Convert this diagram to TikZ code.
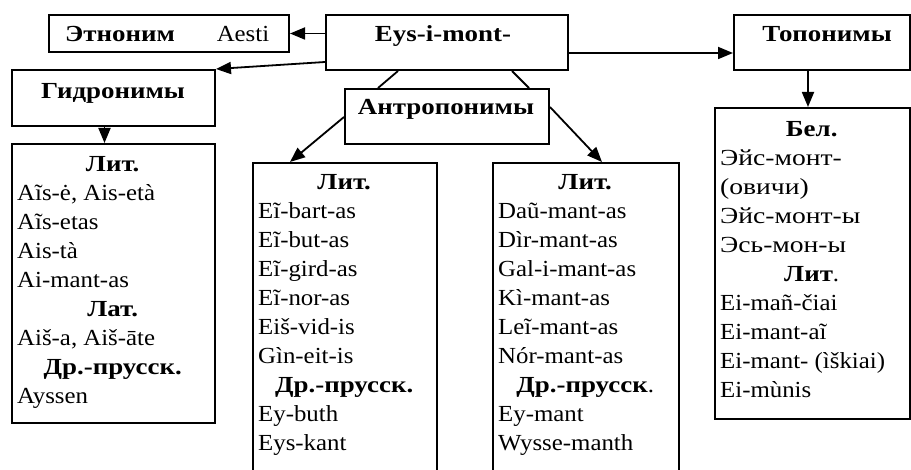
\documentclass[tikz,border=0pt]{standalone}
\usepackage{fontspec}
\setmainfont{Liberation Serif}[FakeStretch=1.08, BoldFeatures={FakeStretch=1.17}]
\newfontfamily\cyr{Liberation Serif}[FakeStretch=1.2, BoldFeatures={FakeStretch=1.17}]
\usetikzlibrary{arrows.meta,calc}
\newcommand\hd[1]{\multicolumn{1}{@{}c@{}}{#1}}
\begin{document}
\begin{tikzpicture}[x=1pt,y=-1pt,
  box/.style={draw, line width=2pt, inner sep=0pt, anchor=north west},
  arr/.style={line width=1.8pt, -{Triangle[length=15pt,width=12pt]}},
  con/.style={line width=1.8pt},
  lbl/.style={inner sep=0pt, anchor=base, font=\fontsize{23}{29}\selectfont},
  lst/.style={inner sep=0pt, anchor=base west, font=\fontsize{23}{29}\selectfont}]
\useasboundingbox (0,0) rectangle (911,470);
% boxes
\node[box, minimum width=240pt, minimum height=37pt] (etn) at (48,14) {};
\node[box, minimum width=242pt, minimum height=55pt] (eys) at (325,14) {};
\node[box, minimum width=176pt, minimum height=55pt] (top) at (733,14) {};
\node[box, minimum width=203pt, minimum height=56pt] (hyd) at (11,69) {};
\node[box, minimum width=204pt, minimum height=55pt] (ant) at (344,88) {};
\node[box, minimum width=203pt, minimum height=279pt] (lbox) at (11,143) {};
\node[box, minimum width=184pt, minimum height=330pt] (ml) at (252,162) {};
\node[box, minimum width=186pt, minimum height=330pt] (mr) at (492,162) {};
\node[box, minimum width=195pt, minimum height=311pt] (rbox) at (714,107) {};
% titles
\node[lbl] (etnA) at (120,42) {\bfseries Этноним};
\node[lbl] (etnB) at (243,42) {Aesti};
\node[lbl] (eysT) at (443,42) {\bfseries Eys-i-mont-};
\node[lbl] (topT) at (827,42) {\bfseries Топонимы};
\node[lbl] (hydT) at (113,99) {\bfseries Гидронимы};
\node[lbl] (antT) at (446,115) {\bfseries Антропонимы};
% lists
\node[lst] (lboxT) at (17,172) {\begin{tabular}[t]{@{}p{191pt}@{}}
\hd{\bfseries Лит.}\\
Aĩs-ė, Ais-età\\
Aĩs-etas\\
Ais-tà\\
Ai-mant-as\\
\hd{\bfseries Лат.}\\
Aiš-a, Aiš-āte\\
\hd{\bfseries Др.-прусск.}\\
Ayssen
\end{tabular}};
\node[lst] (mlT) at (258,190) {\begin{tabular}[t]{@{}p{172pt}@{}}
\hd{\bfseries Лит.}\\
Eĩ-bart-as\\
Eĩ-but-as\\
Eĩ-gird-as\\
Eĩ-nor-as\\
Eiš-vid-is\\
Gìn-eit-is\\
\hd{\bfseries Др.-прусск.}\\
Ey-buth\\
Eys-kant
\end{tabular}};
\node[lst] (mrT) at (498,190) {\begin{tabular}[t]{@{}p{174pt}@{}}
\hd{\bfseries Лит.}\\
Daũ-mant-as\\
Dìr-mant-as\\
Gal-i-mant-as\\
Kì-mant-as\\
Leĩ-mant-as\\
Nór-mant-as\\
\hd{\textbf{Др.-прусск}.}\\
Ey-mant\\
Wysse-manth
\end{tabular}};
\node[lst] (rboxT) at (720,137) {\begin{tabular}[t]{@{}p{183pt}@{}}
\hd{\bfseries Бел.}\\
{\cyr Эйс-монт-}\\
{\cyr (овичи)}\\
{\cyr Эйс-монт-ы}\\
{\cyr Эсь-мон-ы}\\
\hd{\textbf{Лит}.}\\
Ei-mañ-čiai\\
Ei-mant-aĩ\\
Ei-mant- (ìškiai)\\
Ei-mùnis
\end{tabular}};
% connectors
\coordinate (tA) at ($(top.south)+(-14,0)$);
\coordinate (hA) at ($(hyd.south)+(-9,0)$);
\draw[arr] (etn.east -| eys.west) -- (etn.east);
\draw[arr] ($(eys.south west)+(0,-9)$) -- (hyd.north east);
\draw[arr] ($(eys.south east)+(0,-18)$) -- ($(top.south west)+(0,-18)$);
\draw[arr] (tA) -- (tA |- rbox.north);
\draw[con] ($(eys.south west)+(73,0)$) -- ($(ant.north west)+(34,0)$);
\draw[con] ($(eys.south west)+(187,0)$) -- ($(ant.north west)+(185,0)$);
\draw[arr] ($(ant.north west)+(0,29)$) -- ($(ml.north west)+(38,0)$);
\draw[arr] ($(ant.north east)+(0,19)$) -- ($(mr.north west)+(110,0)$);
\draw[arr] (hA) -- (hA |- lbox.north);
\end{tikzpicture}
\end{document}
